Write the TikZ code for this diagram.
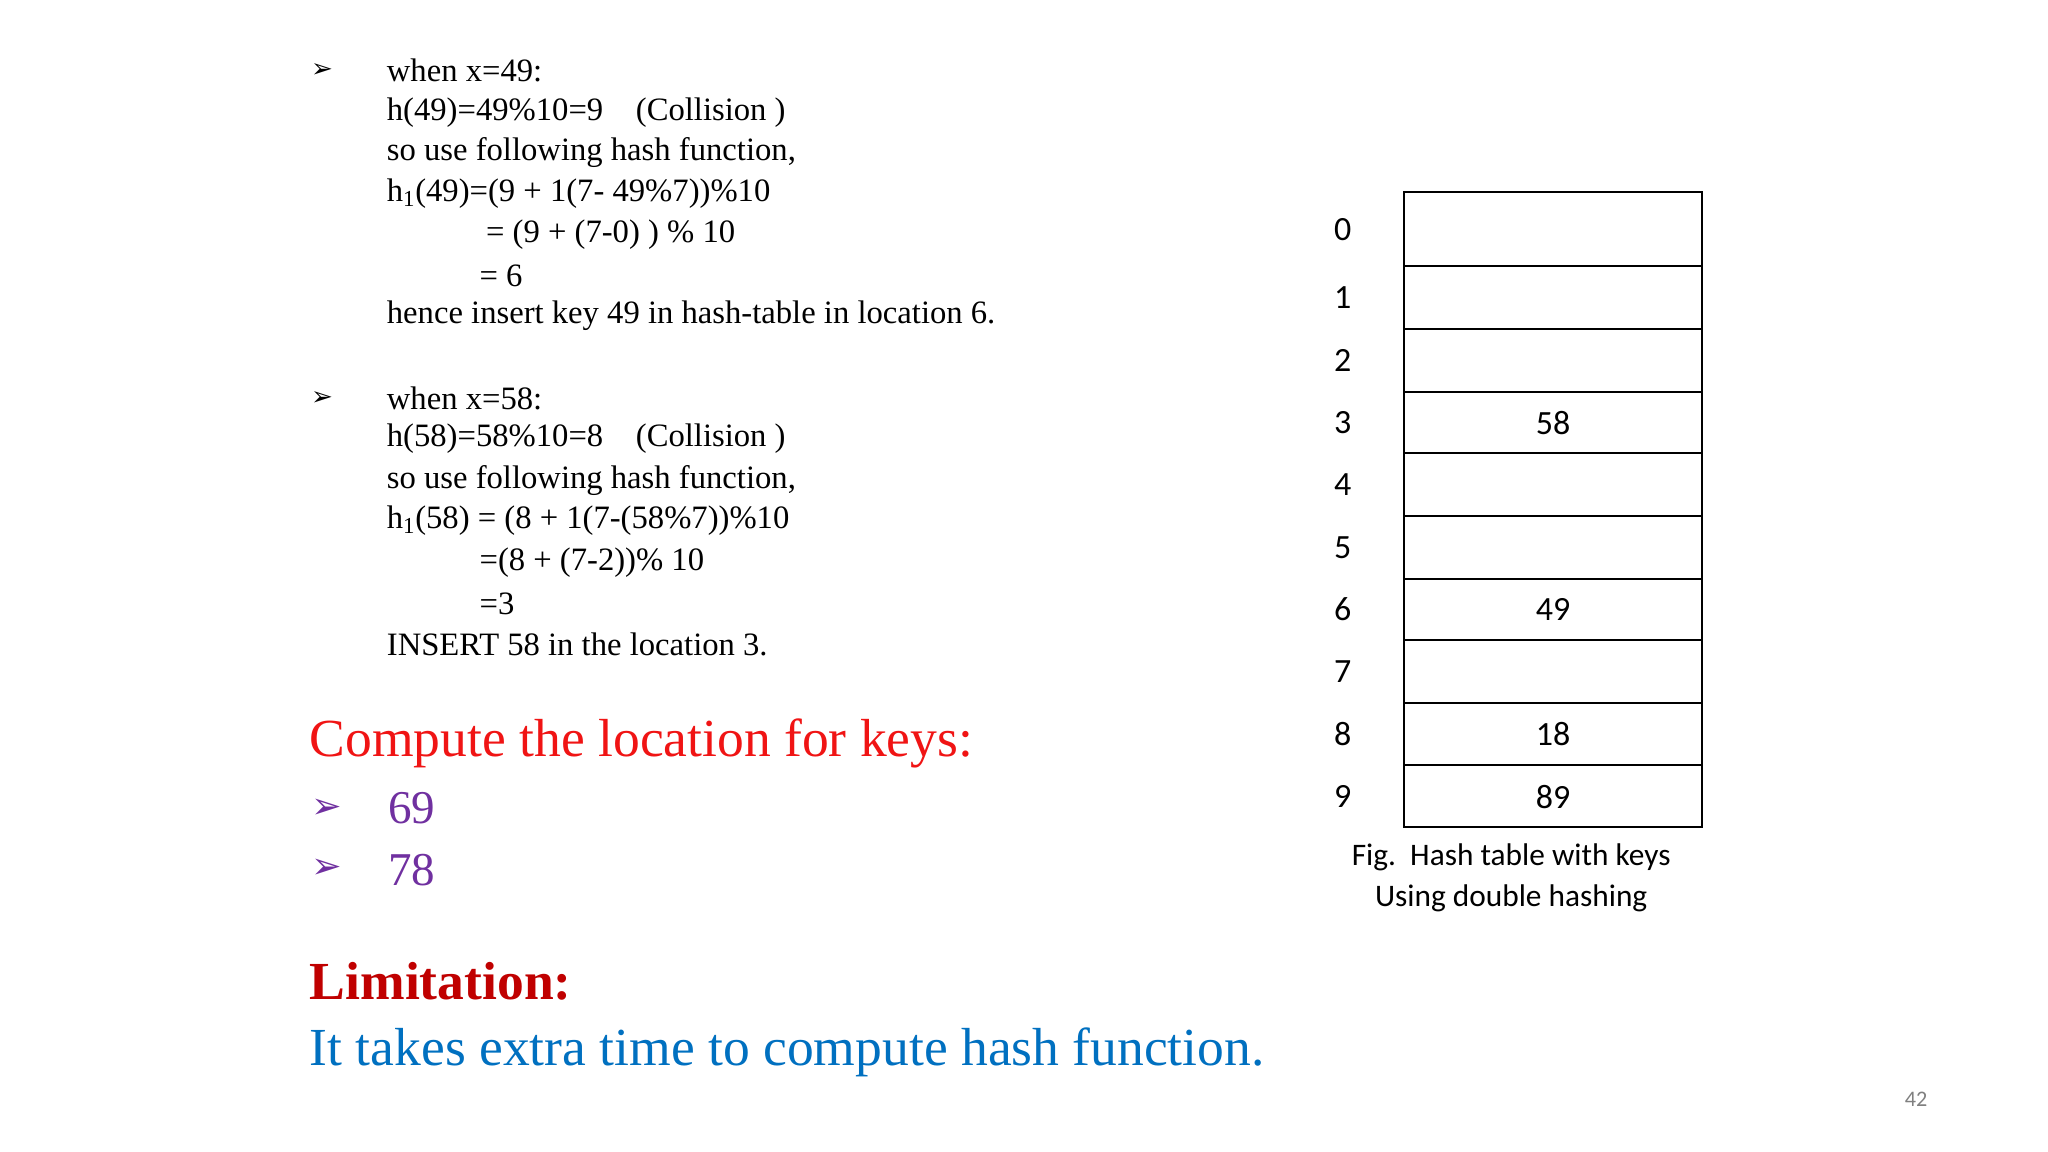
\documentclass[tikz,border=0pt]{standalone}
\usepackage{fontspec}
\setmainfont{Liberation Serif}
\newfontfamily\carfont{Carlito}
\newfontfamily\dvfont{DejaVu Sans}
\definecolor{tred}{RGB}{240,20,20}
\definecolor{dred}{RGB}{192,0,0}
\definecolor{tblue}{RGB}{0,112,192}
\definecolor{tpurp}{RGB}{112,48,160}
\begin{document}
\begin{tikzpicture}[x=1pt,y=-1pt,
  tx/.style={anchor=west,inner sep=0pt,font=\fontsize{25}{30}\selectfont},
  bul/.style={anchor=west,inner sep=0pt,font=\dvfont\fontsize{20}{24}\selectfont},
  cell/.style={draw,line width=1.5pt},
  idx/.style={inner sep=0pt,font=\carfont\fontsize{26}{30}\selectfont},
  val/.style={inner sep=0pt,font=\carfont\fontsize{26}{30}\selectfont}]
\fill[white] (0,0) rectangle (1568,882);
\useasboundingbox (0,0) rectangle (1568,882);
\node[bul] (b1) at (238,54) {➢};
\node[tx] (l1) at (296,54) {when x=49:};
\node[tx] (l2) at (296,86) {h(49)=49\%10=9\quad(Collision )};
\node[tx] (l3) at (296,117) {so use following hash function,};
\node[tx] (l4) at (296,148) {h\textsubscript{1}(49)=(9 + 1(7- 49\%7))\%10};
\node[tx] (l5) at (372,180) {= (9 + (7-0) ) \% 10};
\node[tx] (l6) at (367,211) {= 6};
\node[tx] (l7) at (296,242) {hence insert key 49 in hash-table in location 6.};
\node[bul] (b2) at (238,305) {➢};
\node[tx] (m1) at (296,305) {when x=58:};
\node[tx] (m2) at (296,336) {h(58)=58\%10=8\quad(Collision )};
\node[tx] (m3) at (296,368) {so use following hash function,};
\node[tx] (m4) at (296,399) {h\textsubscript{1}(58) = (8 + 1(7-(58\%7))\%10};
\node[tx] (m5) at (367,431) {=(8 + (7-2))\% 10};
\node[tx] (m6) at (367,462) {=3};
\node[tx] (m7) at (296,493) {INSERT 58 in the location 3.};
\node[anchor=west,inner sep=0pt,text=tred,font=\fontsize{41}{48}\selectfont] (ct) at (237,569) {Compute the location for keys:};
\node[bul,text=tpurp,font=\dvfont\fontsize{28}{32}\selectfont] (b3) at (238,619) {➢};
\node[anchor=west,inner sep=0pt,text=tpurp,font=\fontsize{36}{40}\selectfont] (k1) at (297,619) {69};
\node[bul,text=tpurp,font=\dvfont\fontsize{28}{32}\selectfont] (b4) at (238,665) {➢};
\node[anchor=west,inner sep=0pt,text=tpurp,font=\fontsize{36}{40}\selectfont] (k2) at (297,666) {78};
\node[anchor=west,inner sep=0pt,text=dred,font=\bfseries\fontsize{41}{48}\selectfont] (lim) at (237,751) {Limitation:};
\node[anchor=west,inner sep=0pt,text=tblue,font=\fontsize{41}{48}\selectfont] (ext) at (237,806) {It takes extra time to compute hash function.};
\node[inner sep=0pt,text=gray,font=\carfont\fontsize{17}{20}\selectfont] (pg) at (1467,842) {42};
\foreach \a/\b/\i in {147/204/0,204/252/1,252/300/2,300/347/3,347/395/4,395/443/5,443/490/6,490/538/7,538/586/8,586/633/9}{
  \draw[cell] (1075,\a) rectangle (1303,\b);
  \node[idx] (i\i) at (1028,{(\a+\b)/2}) {\i};
}
\node[val] (v3) at (1189,324) {58};
\node[val] (v6) at (1189,467) {49};
\node[val] (v8) at (1189,562) {18};
\node[val] (v9) at (1189,610) {89};
\node[align=center,inner sep=0pt,font=\carfont\fontsize{24}{32}\selectfont] (cap) at (1157,672) {Fig.\ \ Hash table with keys\\Using double hashing};
\end{tikzpicture}
\end{document}
